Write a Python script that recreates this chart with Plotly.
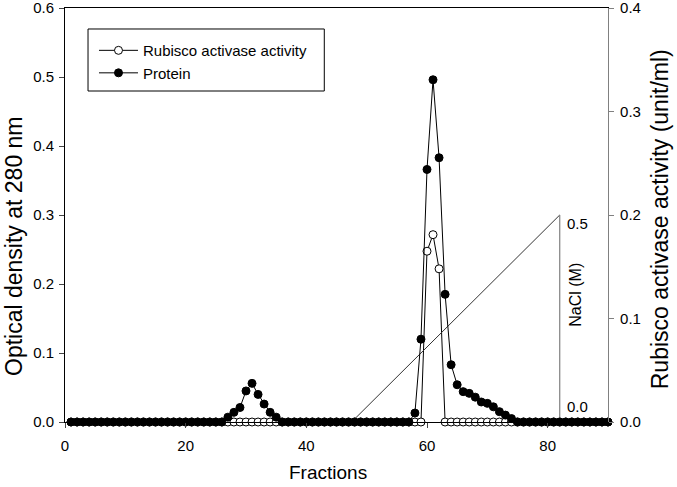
import plotly.graph_objects as go

fractions = list(range(1, 91))

protein_peaks = {27: 0.007, 28: 0.014, 29: 0.021, 30: 0.045, 31: 0.056, 32: 0.040,
                 33: 0.026, 34: 0.014, 35: 0.007,
                 58: 0.013, 59: 0.120, 60: 0.366, 61: 0.496, 62: 0.383, 63: 0.185,
                 64: 0.083, 65: 0.054, 66: 0.044, 67: 0.0415, 68: 0.036, 69: 0.029,
                 70: 0.027, 71: 0.022, 72: 0.015, 73: 0.010, 74: 0.005}
protein = [protein_peaks.get(f, 0.0) for f in fractions]

activity_peaks = {60: 0.165, 61: 0.181, 62: 0.148}
activity = [activity_peaks.get(f, 0.0) for f in fractions]

# NaCl gradient (drawn on left axis scale: 0.5 M -> 0.3)
nacl_x = [47.5, 82, 82]
nacl_y = [0.0, 0.3, 0.0]

left_ticks = [0.0, 0.1, 0.2, 0.3, 0.4, 0.5, 0.6]
right_ticks = [0.0, 0.1, 0.2, 0.3, 0.4]
x_ticks = [0, 20, 40, 60, 80]

FONT = "Liberation Sans, Arial, sans-serif"

fig = go.Figure()

# activity on right axis (yaxis) -> drawn below the left-axis layer
fig.add_trace(go.Scatter(x=fractions, y=activity, mode="lines+markers",
                         name="Rubisco activase activity", yaxis="y",
                         line=dict(color="black", width=1),
                         marker=dict(symbol="circle", size=8, color="white",
                                     line=dict(color="black", width=1)),
                         cliponaxis=False))

fig.add_trace(go.Scatter(x=nacl_x[:2], y=nacl_y[:2], mode="lines", yaxis="y2",
                         line=dict(color="#333333", width=1), showlegend=False,
                         hoverinfo="skip"))
fig.add_trace(go.Scatter(x=nacl_x[1:], y=nacl_y[1:], mode="lines", yaxis="y2",
                         line=dict(color="#808080", width=1.2), showlegend=False,
                         hoverinfo="skip"))

fig.add_trace(go.Scatter(x=fractions, y=protein, mode="lines+markers",
                         name="Protein", yaxis="y2",
                         line=dict(color="black", width=1),
                         marker=dict(symbol="circle", size=8, color="black",
                                     line=dict(color="black", width=1)),
                         cliponaxis=False))

# NaCl labels
fig.add_annotation(x=82, y=0.3, xref="x", yref="y2", text="0.5", showarrow=False,
                   xanchor="left", yanchor="middle", xshift=5, yshift=-8,
                   font=dict(size=15, color="black", family=FONT))
fig.add_annotation(x=82, y=0.0, xref="x", yref="y2", text="0.0", showarrow=False,
                   xanchor="left", yanchor="middle", xshift=5, yshift=16,
                   font=dict(size=15, color="black", family=FONT))
fig.add_annotation(x=82, y=0.184, xref="x", yref="y2", text="NaCl (M)",
                   showarrow=False, textangle=-90, xanchor="center", yanchor="middle",
                   xshift=15, font=dict(size=16, color="black", family=FONT))

# axis titles as annotations (paper coords); plot area is 543 x 414 px
fig.add_annotation(x=-0.094, y=0.425, xref="paper", yref="paper",
                   text="Optical density at 280 nm", showarrow=False, textangle=-90,
                   xanchor="center", yanchor="middle",
                   font=dict(size=23, color="black", family=FONT))
fig.add_annotation(x=1.096, y=0.49, xref="paper", yref="paper",
                   text="Rubisco activase activity (unit/ml)", showarrow=False,
                   textangle=-90, xanchor="center", yanchor="middle",
                   font=dict(size=23, color="black", family=FONT))
fig.add_annotation(x=0.484, y=-0.121, xref="paper", yref="paper",
                   text="Fractions", showarrow=False,
                   xanchor="center", yanchor="middle",
                   font=dict(size=19, color="black", family=FONT))

# legend frame
fig.add_shape(type="rect", xref="paper", yref="paper",
              x0=0.0424, x1=0.4775, y0=0.7995, y1=0.9493,
              line=dict(color="black", width=1), fillcolor="rgba(0,0,0,0)")

fig.update_layout(
    width=677, height=487,
    margin=dict(l=65, r=69, t=8, b=65, autoexpand=False),
    plot_bgcolor="white", paper_bgcolor="white",
    font=dict(family=FONT, size=15, color="black"),
    showlegend=True,
    legend=dict(x=0.0534, y=0.937, xanchor="left", yanchor="top",
                borderwidth=0, bgcolor="rgba(0,0,0,0)", itemwidth=39,
                font=dict(size=15, family=FONT), tracegroupgap=0),
    xaxis=dict(range=[0, 90], tickvals=x_ticks, ticks="outside", ticklen=5,
               showline=True, linecolor="black", linewidth=1, mirror=True,
               showgrid=False, zeroline=False, automargin=False,
               ticklabelstandoff=5, tickfont=dict(size=15)),
    yaxis=dict(range=[0, 0.4], tickvals=right_ticks, tickformat=".1f",
               side="right", ticks="outside", ticklen=5,
               showline=True, linecolor="#808080", linewidth=1.2, tickcolor="#808080",
               showgrid=False, zeroline=False, automargin=False,
               ticklabelstandoff=3, ticklabeloverflow="allow",
               tickfont=dict(size=15)),
    yaxis2=dict(range=[0, 0.6], tickvals=left_ticks, tickformat=".1f",
                overlaying="y", side="left", ticks="outside", ticklen=5,
                showline=True, linecolor="black", linewidth=1,
                showgrid=False, zeroline=False, automargin=False,
                ticklabelstandoff=2, ticklabeloverflow="allow",
                tickfont=dict(size=15)),
)

fig.write_html("out.html", config={"displayModeBar": False},
               post_script="document.body.style.margin='0';")
